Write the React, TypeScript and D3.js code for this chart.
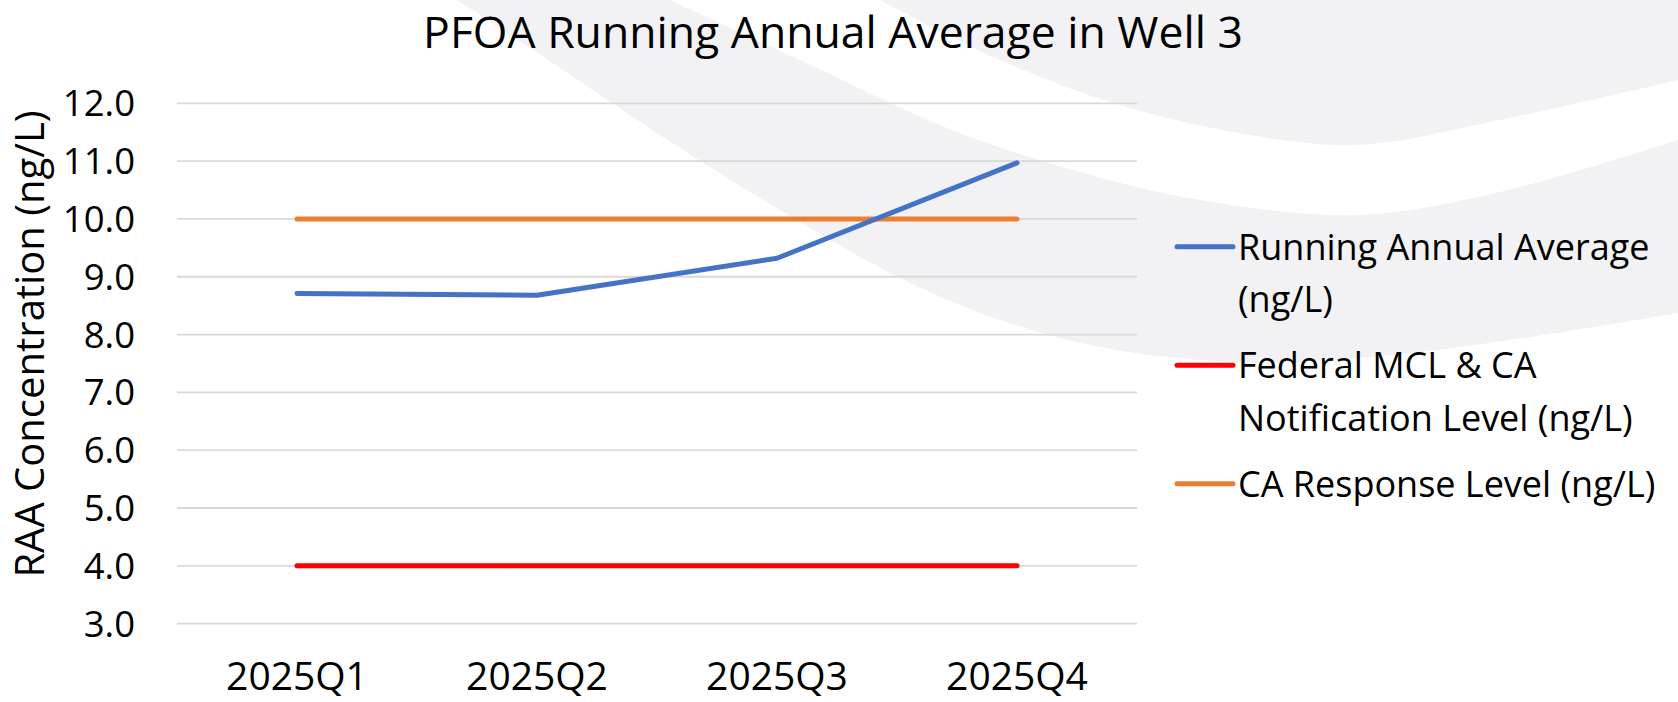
import React from 'react';
import * as d3 from 'd3';

// chart values
const categories = ['2025Q1', '2025Q2', '2025Q3', '2025Q4'];
const raaValues = [8.71, 8.68, 9.32, 10.97];
const mclValues = [4, 4, 4, 4];
const responseValues = [10, 10, 10, 10];
const yTicks = [3, 4, 5, 6, 7, 8, 9, 10, 11, 12];

const seriesNames = [
  ['Running Annual Average', '(ng/L)'],
  ['Federal MCL & CA', 'Notification Level (ng/L)'],
  ['CA Response Level (ng/L)'],
];
const seriesColors = ['#4472C4', '#FF0000', '#ED7D31'];

// decorative swoosh edges in the background
const band1Outer: [number, number][] = [[457, 0], [560, 68], [680, 148], [800, 222], [900, 278], [1000, 320], [1100, 347], [1200, 360], [1300, 362], [1420, 352], [1550, 334], [1678, 313]];
const band1Inner: [number, number][] = [[670, 0], [800, 60], [952, 130], [1080, 172], [1200, 200], [1358, 215], [1500, 192], [1678, 140]];
const band2Edge: [number, number][] = [[880, 0], [1000, 60], [1120, 105], [1250, 135], [1358, 145], [1500, 120], [1678, 80]];

const W = 1678;
const H = 702;
const FONT = '"Open Sans", sans-serif';

const App = () => {
  const x = d3.scalePoint<string>().domain(categories).range([177, 1137]).padding(0.5);
  const y = d3.scaleLinear().domain([3, 12]).range([623.6, 103.3]);

  const line = d3.line<number>()
    .x((_, i) => x(categories[i]) as number)
    .y(d => y(d));

  const edge = d3.line().curve(d3.curveCatmullRom.alpha(0.5));
  const rev = (pts: [number, number][]) => pts.slice().reverse();
  const band1 = edge(band1Outer) + edge(rev(band1Inner))!.replace(/^M/, 'L') + 'Z';
  const band2 = edge(band2Edge) + `L${W},0Z`;

  const series = [raaValues, mclValues, responseValues];
  const drawOrder = [1, 2, 0];

  // legend layout
  const legendX = 1177;
  const lineH = 52.5;
  const itemGap = 66;
  let cy = 246.7;
  const legendItems = seriesNames.map((lines, i) => {
    const item = { lines, color: seriesColors[i], y: cy };
    cy += (lines.length - 1) * lineH + itemGap;
    return item;
  });

  return (
    <svg width={W} height={H} style={{ position: 'absolute', left: 0, top: 0, background: '#fff' }}>
      <rect width={W} height={H} fill="#fff" />
      <path d={band1} fill="#f2f2f4" />
      <path d={band2} fill="#f2f2f4" />

      <text x={833} y={48} textAnchor="middle" fontFamily={FONT} fontSize={44.5} fill="#000">
        PFOA Running Annual Average in Well 3
      </text>

      {yTicks.map(t => (
        <g key={t}>
          <line x1={177} x2={1137} y1={y(t)} y2={y(t)} stroke="#d9d9d9" strokeWidth={1.8} />
          <text x={135} y={y(t) + 13} textAnchor="end" fontFamily={FONT} fontSize={36.5} fill="#000">
            {t.toFixed(1)}
          </text>
        </g>
      ))}

      {categories.map(c => (
        <text key={c} x={x(c)} y={690} textAnchor="middle" fontFamily={FONT} fontSize={39} fill="#000">
          {c}
        </text>
      ))}

      <text
        transform={`translate(44,344) rotate(-90)`}
        textAnchor="middle"
        fontFamily={FONT}
        fontSize={40}
        fill="#000"
      >
        RAA Concentration (ng/L)
      </text>

      {drawOrder.map(i => (
        <path
          key={i}
          d={line(series[i]) as string}
          fill="none"
          stroke={seriesColors[i]}
          strokeWidth={5}
          strokeLinecap="round"
          strokeLinejoin="round"
        />
      ))}

      {legendItems.map((it, i) => (
        <g key={i}>
          <line x1={legendX} x2={legendX + 56} y1={it.y} y2={it.y} stroke={it.color} strokeWidth={5} strokeLinecap="round" />
          {it.lines.map((s, j) => (
            <text key={j} x={legendX + 61} y={it.y + j * lineH + 13} fontFamily={FONT} fontSize={36} fill="#000">
              {s}
            </text>
          ))}
        </g>
      ))}
    </svg>
  );
};

export default App;
